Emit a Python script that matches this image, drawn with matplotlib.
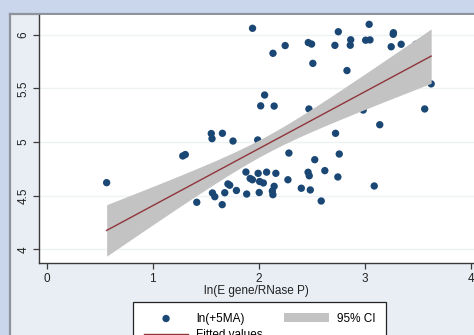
import numpy as np
import matplotlib
matplotlib.use("Agg")
import matplotlib.pyplot as plt
from matplotlib.patches import Rectangle
from matplotlib.lines import Line2D

plt.rcParams['font.family'] = ['Liberation Sans', 'DejaVu Sans']

# ln(E gene / RNase P) and ln(+5MA) for each sample
ln_e_gene = [
    0.565, 1.283, 1.307, 1.415, 1.552, 1.559, 1.657, 1.757, 1.563, 1.585,
    1.655, 1.679, 1.709, 1.726, 1.789, 1.879, 1.886, 1.919, 1.940, 1.994,
    2.004, 2.008, 2.043, 2.074, 2.161, 2.145, 2.128, 2.133, 2.275, 2.284,
    1.990, 2.401, 2.465, 2.476, 2.486, 2.528, 2.589, 2.623, 2.746, 2.759,
    2.724, 3.089, 3.141, 2.985, 2.473, 2.018, 2.145, 2.055, 3.565, 3.626,
    2.510, 2.832, 2.134, 2.249, 2.467, 2.498, 2.718, 2.867, 2.863, 3.008,
    3.049, 3.249, 3.343, 3.482, 3.270, 3.268, 2.750, 3.041, 1.941,
]
ln_5ma = [
    4.621, 4.870, 4.883, 4.438, 5.079, 5.031, 5.081, 5.009, 4.525, 4.490,
    4.416, 4.527, 4.609, 4.597, 4.548, 4.720, 4.515, 4.660, 4.648, 4.708,
    4.529, 4.632, 4.618, 4.719, 4.708, 4.587, 4.543, 4.509, 4.648, 4.897,
    5.019, 4.569, 4.718, 4.685, 4.553, 4.835, 4.450, 4.733, 4.674, 4.888,
    5.081, 4.590, 5.161, 5.298, 5.308, 5.337, 5.335, 5.438, 5.308, 5.542,
    5.733, 5.666, 5.827, 5.899, 5.927, 5.913, 5.901, 5.953, 5.902, 5.949,
    5.952, 5.888, 5.911, 5.911, 6.019, 6.004, 6.028, 6.097, 6.060,
]

# standard errors of the fitted mean used for the 95% CI band
ci_x_center = 2.05
se_fit_center = 0.040
se_slope = 0.0764
t_crit = 1.996

x_ticks = [0, 1, 2, 3, 4]
y_ticks = [4, 4.5, 5, 5.5, 6]
y_tick_labels = ["4", "4.5", "5", "5.5", "6"]

x = np.asarray(ln_e_gene)
y = np.asarray(ln_5ma)

# least squares line
xbar = x.mean()
sxx = ((x - xbar) ** 2).sum()
slope = ((x - xbar) * (y - y.mean())).sum() / sxx
intercept = y.mean() - slope * xbar
xf = np.linspace(x.min(), x.max(), 200)
yf = intercept + slope * xf
half = t_crit * np.sqrt(se_fit_center ** 2 + (se_slope * (xf - ci_x_center)) ** 2)

W, H = 474, 335
fig = plt.figure(figsize=(W / 100, H / 100), dpi=100)
fig.patch.set_facecolor('#c9d6ec')

# graph region with frame, drawn beneath the axes
region = Rectangle((10 / W, 0), 1 - 10 / W, 1 - 14 / H, transform=fig.transFigure,
                   facecolor='#e9eef5', edgecolor='none', zorder=-5)
fig.patches.append(region)
fig.add_artist(Line2D([10 / W, 1], [1 - 14 / H, 1 - 14 / H], transform=fig.transFigure,
                      color='#8e939c', lw=1.6, zorder=-4))
fig.add_artist(Line2D([10 / W, 10 / W], [0, 1 - 14 / H], transform=fig.transFigure,
                      color='#8e939c', lw=1.6, zorder=-4))

ax = fig.add_axes([39 / W, 1 - 263 / H, 1 - 39 / W, (263 - 15) / H])
ax.set_zorder(1)
ax.set_facecolor('white')
ax.set_xlim(-0.073, 4.03)
ax.set_ylim(3.872, 6.184)

for yt in y_ticks:
    ax.axhline(yt, color='#eef2f4', lw=1.0, zorder=0)

pts = ax.scatter(x, y, s=28, color='#1a4773', edgecolors='none', zorder=2)
band = ax.fill_between(xf, yf - half, yf + half, color='#c3c3c3', lw=0, zorder=3)
line, = ax.plot(xf, yf, color='#90353b', lw=1.0, zorder=4)

for side in ('top', 'right'):
    ax.spines[side].set_visible(False)
for side in ('left', 'bottom'):
    ax.spines[side].set_color('#3a3a3a')
    ax.spines[side].set_linewidth(1.0)

ax.set_xticks(x_ticks)
ax.set_xticklabels([str(t) for t in x_ticks])
ax.set_yticks(y_ticks)
ax.set_yticklabels(y_tick_labels, rotation=90, va='center')
ax.tick_params(axis='both', direction='out', length=4, width=0.9, color='#3a3a3a',
               labelsize=8.5, labelcolor='#222222', pad=3)
ax.set_xlabel('ln(E gene/RNase P)', fontsize=8.5, color='#222222', labelpad=0.5)

leg = fig.legend([pts, line, band], ['ln(+5MA)', 'Fitted values', '95% CI'],
                 ncol=2, loc='upper left', bbox_to_anchor=(133 / W, 1 - 302 / H),
                 bbox_transform=fig.transFigure, borderaxespad=0, fontsize=8.5,
                 frameon=True, fancybox=False, edgecolor='#222222', framealpha=1,
                 handlelength=3.8, handletextpad=0.65, columnspacing=1.8,
                 borderpad=0.9, labelspacing=0.35, scatterpoints=1)
leg.set_zorder(5)
leg.get_frame().set_linewidth(0.9)

fig.savefig('out.png', dpi=100, facecolor=fig.get_facecolor())
